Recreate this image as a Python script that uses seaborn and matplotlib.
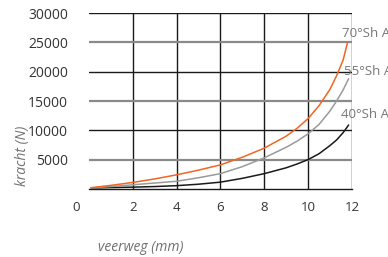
import numpy as np
import pandas as pd
import seaborn as sns
import matplotlib.pyplot as plt

# veerweg (mm) vs kracht (N)
x_40 = [0.1, 1, 2, 3, 4, 5, 6, 7, 8, 9, 9.5, 10, 10.5, 11, 11.3, 11.6, 11.85]
f_40 = [150, 230, 300, 400, 550, 800, 1150, 1800, 2600, 3600, 4250, 5000, 6000, 7400, 8350, 9600, 10900]

x_55 = [0.1, 1, 2, 3, 4, 5, 6, 7, 8, 9, 9.5, 10, 10.5, 11, 11.3, 11.6, 11.85]
f_55 = [170, 400, 700, 1000, 1300, 1900, 2600, 3800, 5300, 7100, 8150, 9400, 11000, 13300, 15000, 16900, 18800]

x_70 = [0.1, 1, 2, 3, 4, 5, 6, 7, 8, 9, 9.5, 10, 10.5, 11, 11.3, 11.6, 11.8]
f_70 = [200, 600, 1100, 1700, 2400, 3200, 4100, 5400, 6950, 9000, 10350, 12000, 14200, 17000, 19300, 22000, 25000]

labels = ["40°Sh A", "55°Sh A", "70°Sh A"]
colors = ["#1a1a1a", "#9a9a9a", "#f26522"]

df = pd.concat([
    pd.DataFrame({"veerweg": x_40, "kracht": f_40, "type": labels[0]}),
    pd.DataFrame({"veerweg": x_55, "kracht": f_55, "type": labels[1]}),
    pd.DataFrame({"veerweg": x_70, "kracht": f_70, "type": labels[2]}),
])

sns.set_style("white")
plt.rcParams["font.family"] = ["Open Sans", "DejaVu Sans"]

fig = plt.figure(figsize=(3.88, 2.57), dpi=100)
ax = fig.add_axes([0.229, 0.265, 0.678, 0.684])

# grid first so the curves sit on top
for v in range(2, 13, 2):
    ax.axvline(v, color="#1a1a1a", lw=1.0, zorder=1)
for h in [5000, 15000, 25000]:
    ax.axhline(h, color="#8a8a8a", lw=1.6, zorder=1)
for h in [10000, 20000, 30000]:
    ax.axhline(h, color="#1a1a1a", lw=1.0, zorder=1)

sns.lineplot(data=df, x="veerweg", y="kracht", hue="type", palette=colors,
             hue_order=labels, lw=1.1, legend=False, ax=ax, zorder=3)

ax.set_xlim(0, 12)
ax.set_ylim(0, 30000)

for s in ["left", "top", "right"]:
    ax.spines[s].set_visible(False)
ax.spines["bottom"].set_color("#1a1a1a")
ax.spines["bottom"].set_linewidth(1.0)

ax.set_xticks(range(2, 13, 2))
ax.set_xticks(range(1, 12, 2), minor=True)
ax.set_yticks(range(5000, 30001, 5000))
ax.set_yticks(range(2500, 30000, 5000), minor=True)
ax.tick_params(axis="x", which="major", length=0, pad=9, labelsize=9.5, labelcolor="#333333")
ax.tick_params(axis="x", which="minor", direction="in", length=5, width=1, color="#777777")
ax.tick_params(axis="y", which="major", length=0, pad=15, labelsize=10, labelcolor="#333333")
ax.tick_params(axis="y", which="minor", direction="in", length=6, width=1, color="#555555")
ax.text(-0.6, -2130, "0", ha="center", va="top", fontsize=9.5, color="#333333", clip_on=False)

ax.set_xlabel("veerweg (mm)", style="italic", color="#707070", fontsize=10)
ax.xaxis.set_label_coords(0.198, -0.29)
ax.set_ylabel("kracht (N)", style="italic", color="#707070", fontsize=10)
ax.yaxis.set_label_coords(-0.225, 0.19)

# series labels at the curve ends
ax.text(11.55, 26600, labels[2], color="#777777", fontsize=9.5, va="center", clip_on=False)
ax.text(11.62, 20000, labels[1], color="#777777", fontsize=9.5, va="center", clip_on=False)
ax.text(11.52, 12650, labels[0], color="#777777", fontsize=9.5, va="center", clip_on=False)

fig.savefig("out.png", dpi=100)
